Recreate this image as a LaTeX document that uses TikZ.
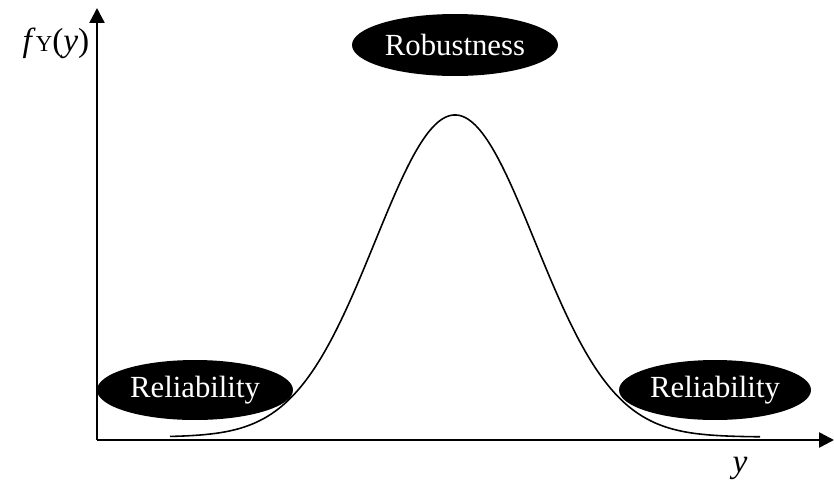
\documentclass[tikz,border=0pt]{standalone}
\usepackage{fontspec}
\setmainfont{Liberation Serif}
\usetikzlibrary{shapes.geometric, arrows.meta}

\newcommand{\PeakX}{455}
\newcommand{\PeakH}{322}
\newcommand{\BaseY}{437}
\newcommand{\Spread}{80}

\tikzset{
  axis/.style={line width=1.4pt, -{Triangle[length=0.3cm, width=0.3cm]}},
  badge/.style={ellipse, fill=black, text=white, inner sep=0pt,
    font=\fontsize{17.5}{20}\selectfont},
}

\begin{document}
\begin{tikzpicture}[x=0.02cm, y=-0.02cm]
  \useasboundingbox (0,0) rectangle (834,480);

  \coordinate (origin) at (97,440);
  \coordinate (ytip) at (97,8);
  \coordinate (xtip) at (834,440);

  \draw[axis] (origin) -- (ytip);
  \draw[axis] (origin) -- (xtip);

  % density curve
  \draw[line width=0.9pt] plot[domain=170:760, samples=120, smooth]
    (\x, {\BaseY - \PeakH*exp(-0.5*((\x-\PeakX)/\Spread)^2)});

  \node[badge, minimum width=4.12cm, minimum height=1.24cm] (robust) at (455,45) {Robustness};
  \node[badge, minimum width=3.92cm, minimum height=1.2cm] (relleft) at (195,390) {Reliability};
  \node[badge, minimum width=3.84cm, minimum height=1.2cm] (relright) at (715,390) {Reliability};

  \node[font=\fontsize{19}{22}\selectfont] (flabel) at (56,43) {\textit{f}{\fontsize{13}{15}\selectfont Y}(\textit{y})};
  \node[font=\fontsize{19}{22}\selectfont] (ylabel) at (740,468) {\textit{y}};
\end{tikzpicture}
\end{document}
